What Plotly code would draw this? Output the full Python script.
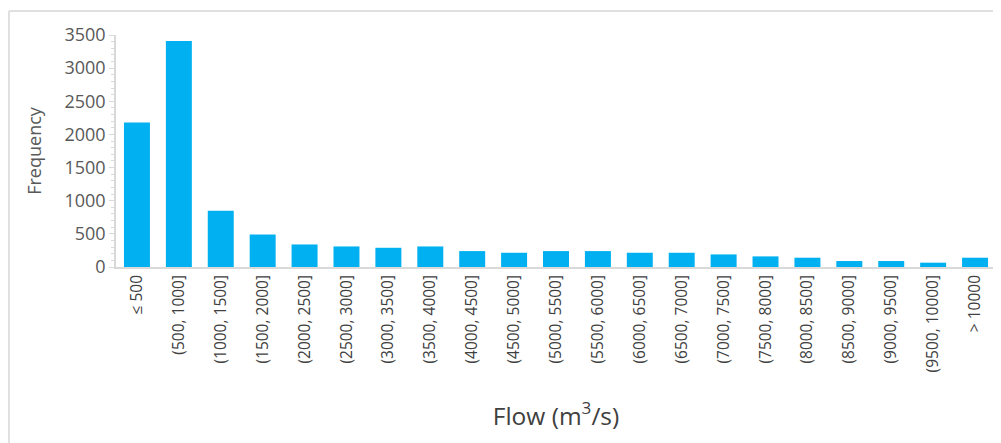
import plotly.graph_objects as go

categories = ["≤ 500", "(500, 1000]", "(1000, 1500]", "(1500, 2000]", "(2000, 2500]",
              "(2500, 3000]", "(3000, 3500]", "(3500, 4000]", "(4000, 4500]", "(4500, 5000]",
              "(5000, 5500]", "(5500, 6000]", "(6000, 6500]", "(6500, 7000]", "(7000, 7500]",
              "(7500, 8000]", "(8000, 8500]", "(8500, 9000]", "(9000, 9500]", "(9500, 10000]",
              "> 10000"]
frequency = [2180, 3410, 850, 490, 340, 310, 290, 310, 240, 215,
             240, 240, 215, 215, 190, 160, 140, 90, 90, 65, 140]
y_ticks = [0, 500, 1000, 1500, 2000, 2500, 3000, 3500]

W, H = 993, 435
L, R, T, B = 108, 5, 27, 176
PW, PH = W - L - R, H - T - B

fig = go.Figure(go.Bar(x=categories, y=frequency, marker_color="#00B0F0",
                       marker_line_width=0))

fig.update_layout(
    width=W, height=H,
    margin=dict(l=L, r=R, t=T, b=B),
    paper_bgcolor="white", plot_bgcolor="white",
    bargap=0.38, showlegend=False,
    font=dict(family="Open Sans", color="#595959"),
    xaxis=dict(
        tickangle=-90, tickfont=dict(size=15.5, color="#404040"),
        showline=True, linecolor="#d9d9d9", linewidth=1.5,
        ticks="", showgrid=False,
        title=dict(text="Flow (m<sup>3</sup>/s)", font=dict(size=24.5, color="#404040"), standoff=36),
    ),
    yaxis=dict(
        range=[0, 3500], tickvals=y_ticks, tickfont=dict(size=18, color="#595959"),
        showline=True, linecolor="#d9d9d9", linewidth=1.5,
        ticks="outside", ticklen=5, tickcolor="#d9d9d9",
        minor=dict(dtick=100, ticks="outside", ticklen=3, tickcolor="#d9d9d9"),
        showgrid=False, zeroline=False,
        title=dict(text="Frequency", font=dict(size=18, color="#595959"), standoff=18),
    ),
)

# outer frame (left and top edges)
top = (T + PH - 3) / PH
left = (1 - L) / PW
fig.add_shape(type="line", xref="paper", yref="paper",
              x0=left, x1=(W - L) / PW, y0=top, y1=top,
              line=dict(color="#e0e0e0", width=2))
fig.add_shape(type="line", xref="paper", yref="paper",
              x0=left, x1=left, y0=top, y1=-B / PH,
              line=dict(color="#e0e0e0", width=2))

fig.write_html("out.html")
